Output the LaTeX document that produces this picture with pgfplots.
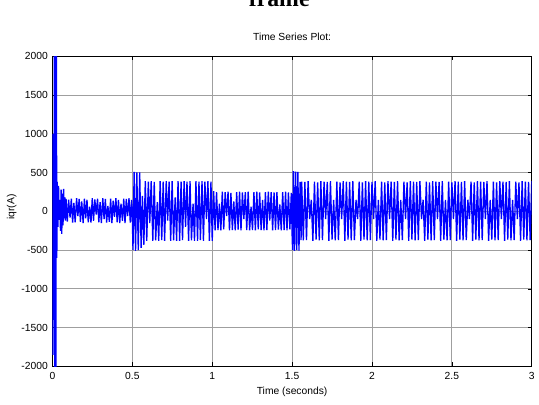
\documentclass[border=0pt]{standalone}
\usepackage{fontspec}
\setmainfont{Liberation Sans}
\newfontfamily\titleserif{Liberation Serif}
\usepackage{pgfplots}
\pgfplotsset{compat=1.18}

\pgfplotstableread{
t y
0.000 0
0.001 1000
0.003 -1850
0.006 400
0.009 -1400
0.012 2500
0.015 -2500
0.018 2500
0.021 -2500
0.024 2500
0.027 -600
0.030 380
0.034 -200
0.038 330
0.042 -110
0.046 150
0.050 -250
0.054 280
0.058 -290
0.062 230
0.066 -180
0.070 290
0.074 -90
0.078 180
0.081 -120
0.085 160
0.093 -130
0.101 150
0.110 -80
0.118 165
0.126 -145
0.134 110
0.142 -140
0.151 170
0.159 -60
0.167 160
0.175 -135
0.183 130
0.192 -150
0.200 165
0.208 -90
0.216 150
0.224 -140
0.233 60
0.241 -145
0.249 170
0.257 -120
0.265 155
0.274 -40
0.282 165
0.290 -140
0.298 120
0.306 -150
0.315 170
0.323 -100
0.331 160
0.339 -145
0.347 70
0.356 -135
0.364 165
0.372 -150
0.380 140
0.388 -70
0.397 170
0.405 -140
0.413 150
0.421 -150
0.429 100
0.438 -120
0.446 165
0.454 -150
0.462 160
0.470 -60
0.479 170
0.487 -145
0.495 150
0.500 -100
0.504 -500
0.511 510
0.520 -510
0.528 505
0.537 -500
0.546 505
0.555 -470
0.563 200
0.572 -430
0.581 390
0.590 -380
0.600 385
0.609 -150
0.618 390
0.628 -380
0.637 380
0.646 -375
0.656 120
0.665 -380
0.674 390
0.684 -370
0.693 385
0.702 -380
0.712 390
0.721 -120
0.730 385
0.740 -380
0.749 390
0.758 -375
0.768 180
0.777 -380
0.786 390
0.796 -380
0.805 385
0.814 -370
0.824 390
0.833 -200
0.842 385
0.852 -380
0.861 390
0.870 -375
0.880 100
0.889 -380
0.898 390
0.908 -380
0.917 385
0.926 -370
0.936 390
0.945 -380
0.954 385
0.964 -100
0.973 390
0.982 -380
0.992 385
1.000 -380
1.009 260
1.018 -245
1.027 250
1.036 -240
1.045 100
1.054 -245
1.063 255
1.072 -230
1.081 250
1.090 -60
1.099 255
1.108 -245
1.117 240
1.126 -240
1.135 130
1.144 -245
1.153 250
1.162 -235
1.171 255
1.180 -245
1.189 245
1.198 -100
1.207 250
1.216 -240
1.225 255
1.234 -245
1.243 60
1.252 -240
1.261 250
1.270 -245
1.279 255
1.288 -230
1.297 245
1.306 -240
1.315 150
1.324 -245
1.333 250
1.342 -240
1.351 255
1.360 -120
1.369 250
1.378 -245
1.387 245
1.396 -240
1.405 250
1.414 -235
1.423 90
1.432 -245
1.441 250
1.450 -240
1.459 255
1.468 -245
1.477 245
1.486 -230
1.495 240
1.500 -300
1.503 -500
1.508 520
1.515 -510
1.522 515
1.529 -500
1.536 510
1.543 -505
1.550 380
1.556 -370
1.56 385
1.57 -375
1.58 380
1.59 -370
1.60 390
1.61 -100
1.62 150
1.63 -380
1.64 385
1.65 -365
1.66 375
1.67 -375
1.68 390
1.69 -370
1.70 385
1.71 -100
1.72 380
1.73 -380
1.74 390
1.75 -365
1.76 150
1.77 -375
1.78 385
1.79 -370
1.80 375
1.81 -100
1.82 390
1.83 -380
1.84 385
1.85 -365
1.86 380
1.87 -375
1.88 390
1.89 -370
1.90 150
1.91 -100
1.92 385
1.93 -380
1.94 375
1.95 -365
1.96 390
1.97 -375
1.98 385
1.99 -370
2.00 380
2.01 -100
2.02 390
2.03 -380
2.04 150
2.05 -365
2.06 385
2.07 -375
2.08 375
2.09 -370
2.10 390
2.11 -100
2.12 385
2.13 -380
2.14 380
2.15 -365
2.16 390
2.17 -375
2.18 150
2.19 -370
2.20 385
2.21 -100
2.22 375
2.23 -380
2.24 390
2.25 -365
2.26 385
2.27 -375
2.28 380
2.29 -370
2.30 390
2.31 -100
2.32 150
2.33 -380
2.34 385
2.35 -365
2.36 375
2.37 -375
2.38 390
2.39 -370
2.40 385
2.41 -100
2.42 380
2.43 -380
2.44 390
2.45 -365
2.46 150
2.47 -375
2.48 385
2.49 -370
2.50 375
2.51 -100
2.52 390
2.53 -380
2.54 385
2.55 -365
2.56 380
2.57 -375
2.58 390
2.59 -370
2.60 150
2.61 -100
2.62 385
2.63 -380
2.64 375
2.65 -365
2.66 390
2.67 -375
2.68 385
2.69 -370
2.70 380
2.71 -100
2.72 390
2.73 -380
2.74 150
2.75 -365
2.76 385
2.77 -375
2.78 375
2.79 -370
2.80 390
2.81 -100
2.82 385
2.83 -380
2.84 380
2.85 -365
2.86 390
2.87 -375
2.88 150
2.89 -370
2.90 385
2.91 -100
2.92 375
2.93 -380
2.94 390
2.95 -365
2.96 385
2.97 -375
2.98 380
2.99 -370
3.00 390
}\iqrdata

\begin{document}
\begin{tikzpicture}
  \begin{axis}[
    scale only axis,
    width=363pt, height=234.75pt,
    at={(0,0)}, anchor=south west,
    xmin=0, xmax=3, ymin=-2000, ymax=2000,
    xtick={0,0.5,1,1.5,2,2.5,3},
    ytick={-2000,-1500,-1000,-500,0,500,1000,1500,2000},
    /pgf/number format/1000 sep={},
    /pgf/number format/assume math mode=true,
    tick label style={font=\fontsize{7.8}{9}\selectfont},
    xticklabel style={yshift=-1pt},
    tick align=inside, tick pos=both,
    major tick length=3pt,
    tick style={black, line width=0.5pt},
    grid=major,
    major grid style={gray!75, line width=0.7pt},
    axis line style={black, line width=0.8pt},
    title={Time Series Plot:},
    title style={font=\fontsize{7.8}{9}\selectfont, at={(axis description cs:0.5,1.038)}, anchor=center},
    xlabel={Time (seconds)},
    xlabel style={font=\fontsize{7.8}{9}\selectfont, at={(axis description cs:0.5,-0.083)}, anchor=center},
    ylabel={iqr(A)},
    ylabel style={font=\fontsize{7.8}{9}\selectfont, at={(axis description cs:-0.085,0.514)}, anchor=center},
  ]
    \addplot[color={rgb,255:red,0;green,0;blue,255}, line width=1pt, mark=none] table[x=t, y=y] {\iqrdata};
  \end{axis}
  % page window of the reference: the big title is cut by the top edge
  \path (-39.75pt,-28.5pt) rectangle (364.5pt,277.5pt);
  \node[overlay, anchor=base, font=\titleserif\bfseries\fontsize{18}{20}\selectfont] at (171.75pt,272.25pt) {frame};
\end{tikzpicture}
\end{document}
